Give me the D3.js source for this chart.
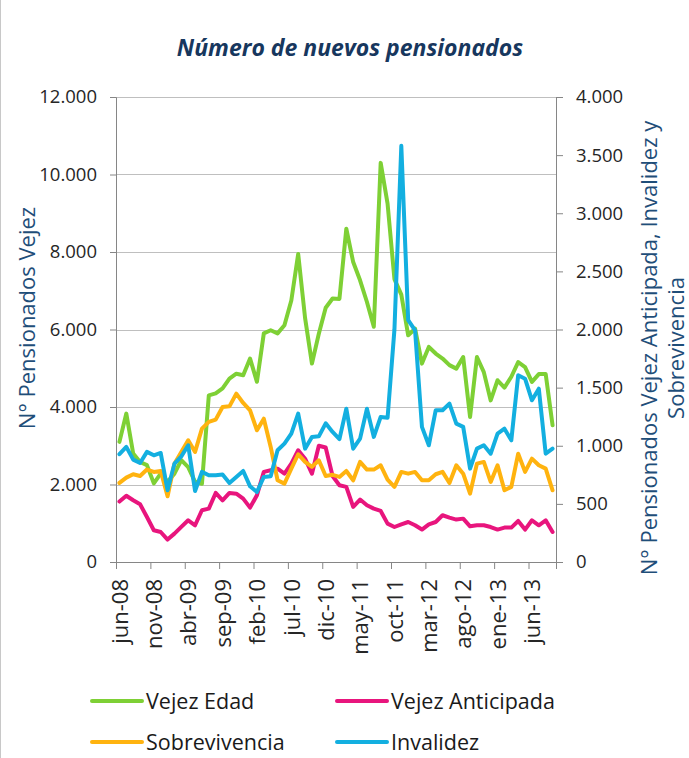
<!DOCTYPE html>
<meta charset="utf-8">
<style>
  body { margin: 0; background: #fff; }
  text { font-family: 'Open Sans', sans-serif; fill: #262626; }
  .grid line { stroke: #bfbfbf; stroke-width: 1px; }
  .axis path, .axis line { stroke: #868686; stroke-width: 1px; }
  .axis text { font-size: 18.5px; fill: #262626; }
  .axis-x text { font-size: 22px; }
  .serie { fill: none; stroke-width: 4px; stroke-linejoin: round; stroke-linecap: round; }
  .titulo-eje { fill: #1f4e79; font-size: 22px; }
  .titulo { fill: #17375e; font-size: 23px; font-weight: bold; font-style: italic; }
  .leyenda text { font-size: 21.5px; fill: #1a1a1a; }
</style>
<body>
<script src="https://d3js.org/d3.v7.min.js"></script>
<script>
  // month names used for the category labels (jun-08 .. sep-13)
  var meses = ["ene", "feb", "mar", "abr", "may", "jun", "jul", "ago", "sep", "oct", "nov", "dic"];
  var fechas = [];
  for (var k = 0; k < 64; k++) {
    var m = (5 + k) % 12, a = 8 + Math.floor((5 + k) / 12);
    fechas.push(meses[m] + "-" + (a < 10 ? "0" + a : a));
  }

  // series values
  var vejezEdad = [3100, 3830, 2800, 2580, 2500, 2030, 2280, 2070, 2280, 2630,
    2450, 2070, 2020, 4300, 4350, 4480, 4730, 4860, 4820, 5250,
    4650, 5900, 5980, 5900, 6110, 6750, 7950, 6300, 5120, 5890,
    6560, 6800, 6790, 8600, 7740, 7270, 6710, 6070, 10300, 9250,
    7300, 6900, 5850, 6020, 5120, 5550, 5380, 5250, 5080, 4990,
    5290, 3740, 5290, 4900, 4170, 4690, 4500, 4780, 5160, 5030,
    4650, 4850, 4850, 3530];

  var vejezAnticipada = [520, 570, 531, 497, 387, 273, 258, 193, 244, 302,
    359, 316, 445, 459, 594, 531, 594, 588, 545, 468,
    574, 775, 789, 803, 760, 846, 961, 889, 760, 1000,
    985, 740, 660, 646, 474, 537, 488, 459, 439, 330,
    301, 324, 344, 316, 279, 324, 344, 402, 382, 365,
    373, 307, 316, 316, 301, 279, 296, 296, 353, 279,
    359, 316, 359, 258];

  var sobrevivencia = [680, 726, 755, 740, 795, 775, 783, 565, 846, 947,
    1047, 947, 1147, 1205, 1225, 1334, 1339, 1448, 1368, 1305,
    1133, 1233, 990, 703, 674, 803, 927, 861, 818, 875,
    740, 750, 732, 783, 703, 861, 795, 795, 832, 709,
    646, 775, 760, 775, 703, 703, 755, 775, 680, 832,
    760, 588, 846, 861, 689, 832, 617, 646, 932, 775,
    889, 832, 803, 617];

  var invalidez = [927, 990, 881, 852, 947, 918, 938, 617, 846, 909,
    1004, 611, 775, 746, 746, 752, 680, 732, 783, 651,
    602, 732, 737, 961, 1018, 1104, 1276, 975, 1076, 1081,
    1193, 1119, 1057, 1319, 975, 1061, 1319, 1076, 1248, 1240,
    2000, 3580, 2080, 1993, 1162, 1004, 1305, 1305, 1362, 1190,
    1162, 803, 975, 1004, 932, 1104, 1147, 1047, 1606, 1577,
    1391, 1491, 932, 975];

  var ticksIzq = [0, 2000, 4000, 6000, 8000, 10000, 12000];
  var ticksDer = [0, 500, 1000, 1500, 2000, 2500, 3000, 3500, 4000];
  var ticksX = [0, 5, 10, 15, 20, 25, 30, 35, 40, 45, 50, 55, 60];

  var series = [
    { nombre: "Vejez Edad", valores: vejezEdad, color: "#7ed035", eje: "izq" },
    { nombre: "Vejez Anticipada", valores: vejezAnticipada, color: "#e8157d", eje: "der" },
    { nombre: "Sobrevivencia", valores: sobrevivencia, color: "#ffb30f", eje: "der" },
    { nombre: "Invalidez", valores: invalidez, color: "#13afe0", eje: "der" }
  ];

  var width = 689, height = 758;
  var margin = { top: 97, right: 133, bottom: 196, left: 116 };
  var w = width - margin.left - margin.right,
      h = height - margin.top - margin.bottom;

  var svg = d3.select("body").append("svg")
    .attr("width", width)
    .attr("height", height);

  // thin border on the left edge of the picture
  svg.append("line")
    .attr("x1", 0.5).attr("x2", 0.5).attr("y1", 0).attr("y2", height)
    .attr("stroke", "#c8c8c8");

  var g = svg.append("g")
    .attr("transform", "translate(" + margin.left + "," + margin.top + ")");

  var x = d3.scaleLinear().domain([0, fechas.length]).range([0, w]);
  var yIzq = d3.scaleLinear().domain([0, 12000]).range([h, 0]);
  var yDer = d3.scaleLinear().domain([0, 4000]).range([h, 0]);

  var fmt = function (v) { return d3.format(",")(v).replace(/,/g, "."); };

  // gridlines
  g.append("g").attr("class", "grid")
    .selectAll("line")
    .data(ticksIzq.slice(1))
    .enter().append("line")
    .attr("x1", 0).attr("x2", w)
    .attr("y1", function (d) { return Math.round(yIzq(d)) + 0.5; })
    .attr("y2", function (d) { return Math.round(yIzq(d)) + 0.5; });

  // left axis
  g.append("g").attr("class", "axis")
    .call(d3.axisLeft(yIzq).tickValues(ticksIzq).tickFormat(fmt).tickSizeOuter(0).tickSize(6).tickPadding(13));

  // right axis
  g.append("g").attr("class", "axis")
    .attr("transform", "translate(" + w + ",0)")
    .call(d3.axisRight(yDer).tickValues(ticksDer).tickFormat(fmt).tickSizeOuter(0).tickSize(7).tickPadding(13));

  // bottom axis, ticks at month boundaries, labels at month centres
  var ejeX = g.append("g").attr("class", "axis axis-x")
    .attr("transform", "translate(0," + h + ")")
    .call(d3.axisBottom(x).tickValues(ticksX).tickFormat(function (i) { return fechas[i]; })
      .tickSizeOuter(0).tickSize(7));
  ejeX.selectAll("text")
    .attr("transform", "rotate(-90)")
    .attr("text-anchor", "end")
    .attr("x", -17)
    .attr("y", x(0.5) - x(0))
    .attr("dy", ".35em");

  // lines
  series.forEach(function (s) {
    var y = s.eje == "izq" ? yIzq : yDer;
    var linea = d3.line()
      .x(function (d, i) { return x(i + 0.5); })
      .y(function (d) { return y(d); });
    g.append("path")
      .datum(s.valores)
      .attr("class", "serie")
      .attr("stroke", s.color)
      .attr("d", linea);
  });

  // title
  svg.append("text")
    .attr("class", "titulo")
    .attr("x", 350).attr("y", 56)
    .attr("text-anchor", "middle")
    .text("Número de nuevos pensionados");

  // axis titles
  svg.append("text")
    .attr("class", "titulo-eje")
    .attr("transform", "translate(27,318) rotate(-90)")
    .attr("text-anchor", "middle")
    .attr("dy", ".35em")
    .text("N° Pensionados Vejez");

  var tDer = svg.append("text")
    .attr("class", "titulo-eje")
    .attr("transform", "translate(649,348) rotate(-90)")
    .attr("text-anchor", "middle");
  tDer.append("tspan").attr("x", 0).attr("dy", ".35em")
    .text("N° Pensionados Vejez Anticipada, Invalidez y");
  tDer.append("tspan").attr("x", 0).attr("dy", 27)
    .text("Sobrevivencia");

  // legend
  var posLeyenda = [[92, 701], [337, 701], [92, 742], [337, 742]];
  var leyenda = svg.append("g").attr("class", "leyenda")
    .selectAll("g")
    .data(series)
    .enter().append("g")
    .attr("transform", function (d, i) { return "translate(" + posLeyenda[i][0] + "," + posLeyenda[i][1] + ")"; });
  leyenda.append("line")
    .attr("x1", 0).attr("x2", 50)
    .attr("stroke", function (d) { return d.color; })
    .attr("stroke-width", 4)
    .attr("stroke-linecap", "round");
  leyenda.append("text")
    .attr("x", 54)
    .attr("dy", ".35em")
    .text(function (d) { return d.nombre; });
</script>
</body>
